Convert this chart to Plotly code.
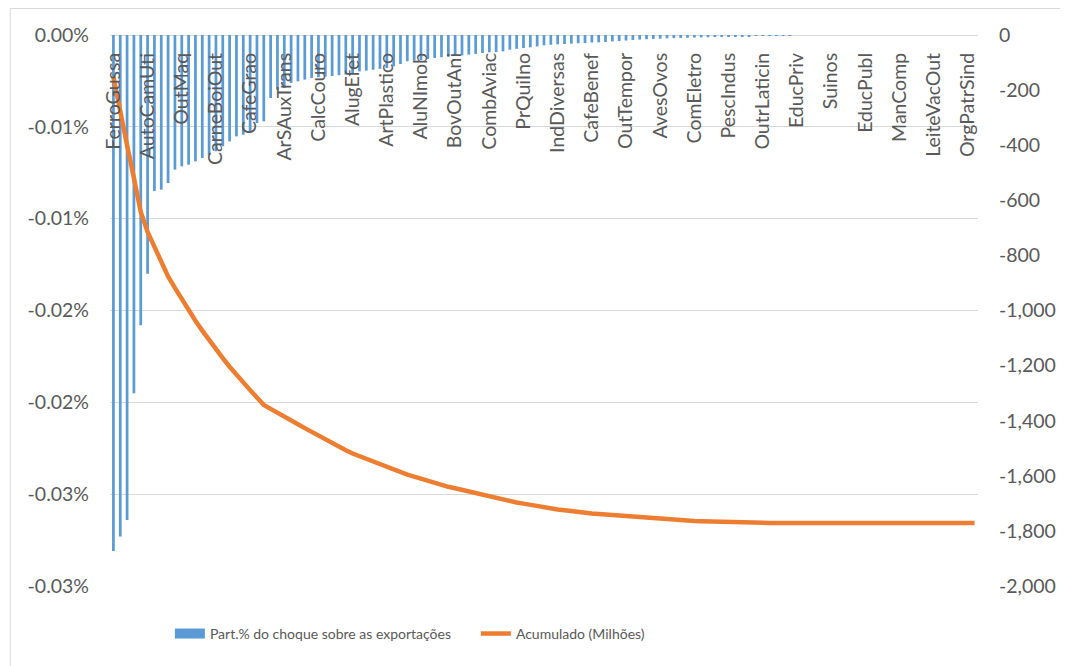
import plotly.graph_objects as go

# ---- data -------------------------------------------------------------
tick_labels = ["FerroGussa", "AutoCamUti", "OutMaq", "CarneBoiOut", "CafeGrao",
               "ArSAuxTrans", "CalcCouro", "AlugEfet", "ArtPlastico", "AluNImob",
               "BovOutAni", "CombAviac", "PrQuiIno", "IndDiversas", "CafeBenef",
               "OutTempor", "AvesOvos", "ComEletro", "PescIndus", "OutrLaticin",
               "EducPriv", "Suinos", "EducPubl", "ManComp", "LeiteVacOut",
               "OrgPatrSind"]

# share of the shock on exports (%), one value per sector (127 sectors)
part_pct = [
    -0.0281, -0.0273, -0.0264, -0.0195, -0.0158, -0.0130, -0.00849, -0.00842, -0.00806, -0.00733,
    -0.00715, -0.00706, -0.00688, -0.00670, -0.00652, -0.00633, -0.00606, -0.00579, -0.00552, -0.00543,
    -0.00524, -0.00479, -0.00470, -0.00343, -0.00298, -0.00289, -0.00261, -0.00252, -0.00243, -0.00234,
    -0.00230, -0.00227, -0.00223, -0.00219, -0.00216, -0.00207, -0.00198, -0.00194, -0.00189, -0.00184,
    -0.00180, -0.00170, -0.00158, -0.00143, -0.00140, -0.00136, -0.00131, -0.00125, -0.00121, -0.00118,
    -0.00114, -0.00111, -0.00107, -0.00103, -0.00098, -0.00094, -0.00093, -0.00089, -0.00080, -0.00075,
    -0.00071, -0.00067, -0.00062, -0.00056, -0.00053, -0.00051, -0.00049, -0.00047, -0.00045, -0.00044,
    -0.00041, -0.00040, -0.00038, -0.00035, -0.00033, -0.00030, -0.00027, -0.00025, -0.00023, -0.00021,
    -0.00020, -0.00018, -0.00017, -0.00016, -0.00015, -0.00014, -0.00013, -0.00012, -0.00011, -0.00010,
    -0.00009, -0.00008, -0.00007, -0.00007, -0.00005, -0.00004, -0.00003, -0.00002, -0.00001, -0.00001,
    0, 0, 0, 0, 0, 0, 0, 0, 0, 0,
    0, 0, 0, 0, 0, 0, 0, 0, 0, 0,
    0, 0, 0, 0, 0, 0, 0,
]

# cumulative (millions)
acumulado = [
    -152, -282, -400, -519, -642, -715, -770, -822, -876, -918,
    -960, -1000, -1037, -1073, -1108, -1141, -1173, -1204, -1234, -1262,
    -1289, -1316, -1343, -1357, -1370, -1385, -1399, -1413, -1427, -1441,
    -1454, -1468, -1481, -1494, -1507, -1519, -1529, -1539, -1549, -1559,
    -1569, -1579, -1588, -1596, -1603, -1611, -1618, -1625, -1632, -1640,
    -1645, -1651, -1657, -1664, -1670, -1676, -1682, -1688, -1692, -1697,
    -1701, -1706, -1710, -1714, -1718, -1722, -1725, -1729, -1732, -1735,
    -1737, -1739, -1741, -1743, -1745, -1747, -1749, -1751, -1753, -1754,
    -1756, -1758, -1760, -1761, -1763, -1764, -1765, -1766, -1767, -1768,
    -1769, -1769, -1770, -1770, -1771, -1771, -1771, -1771, -1771, -1771,
    -1771, -1771, -1771, -1771, -1771, -1771, -1771, -1771, -1771, -1771,
    -1771, -1771, -1771, -1771, -1771, -1771, -1771, -1771, -1771, -1771,
    -1771, -1771, -1771, -1771, -1771, -1771, -1771,
]

left_tickvals = [0, -0.005, -0.01, -0.015, -0.02, -0.025, -0.03]
left_ticktext = ["0.00%", "-0.01%", "-0.01%", "-0.02%", "-0.02%", "-0.03%", "-0.03%"]
right_tickvals = [0, -200, -400, -600, -800, -1000, -1200, -1400, -1600, -1800, -2000]
right_ticktext = ["0", "-200", "-400", "-600", "-800", "-1,000", "-1,200", "-1,400",
                  "-1,600", "-1,800", "-2,000"]

series_names = ["Part.% do choque sobre as exportações", "Acumulado (Milhões)"]

# ---- figure -----------------------------------------------------------
sector_idx = list(range(len(part_pct)))
label_idx = sector_idx[::5]

FONT = "Lato, 'Open Sans', sans-serif"
GREY = "#595959"
BLUE = "#5B9BD5"
ORANGE = "#ED7D31"

fig = go.Figure()
fig.add_trace(go.Bar(x=sector_idx, y=part_pct, name=series_names[0],
                     marker=dict(color=BLUE, line=dict(width=0)),
                     yaxis="y", showlegend=False, legendgroup="part"))
# legend entry for the bars, drawn as a wide swatch like the original
fig.add_trace(go.Scatter(x=[None], y=[None], name=series_names[0], mode="lines",
                         line=dict(color=BLUE, width=13), yaxis="y",
                         legendgroup="part", showlegend=True, hoverinfo="skip"))
fig.add_trace(go.Scatter(x=sector_idx, y=acumulado, name=series_names[1],
                         mode="lines", line=dict(color=ORANGE, width=4.5),
                         yaxis="y2"))

fig.update_layout(
    width=1060, height=658,
    margin=dict(l=102, r=88, t=27, b=80),
    paper_bgcolor="white", plot_bgcolor="white",
    font=dict(family=FONT, color=GREY, size=19.5),
    bargap=0.6,
    showlegend=True,
    legend=dict(orientation="h", x=0.069, y=-0.087, xanchor="left", yanchor="middle",
                font=dict(size=14, color=GREY, family=FONT), itemwidth=30,
                entrywidth=261, entrywidthmode="pixels", tracegroupgap=0,
                bgcolor="rgba(0,0,0,0)"),
    xaxis=dict(range=[-0.5, len(part_pct) - 0.5], tickmode="array",
               tickvals=label_idx, ticktext=tick_labels, tickangle=-90,
               side="bottom", anchor="free", position=1,
               showgrid=False, zeroline=False, showline=False, ticks="",
               ticklabelstandoff=13,
               tickfont=dict(size=19.5, color=GREY)),
    yaxis=dict(range=[-0.03, 0], tickmode="array", tickvals=left_tickvals,
               ticktext=left_ticktext, showgrid=True, gridcolor="#D9D9D9", gridwidth=1,
               zeroline=True, zerolinecolor="#D9D9D9", zerolinewidth=1,
               showline=False, ticks="", ticklabelstandoff=20,
               tickfont=dict(size=19.5, color=GREY)),
    yaxis2=dict(range=[-2000, 0], overlaying="y", side="right", tickmode="array",
                tickvals=right_tickvals, ticktext=right_ticktext,
                showgrid=False, zeroline=False, showline=False, ticks="",
                ticklabelstandoff=20, tickfont=dict(size=19.5, color=GREY)),
    shapes=[dict(type="rect", xref="paper", yref="paper",
                 x0=-0.1149, x1=1.3, y0=-0.3, y1=1.0481,
                 line=dict(color="#D9D9D9", width=1), fillcolor="rgba(0,0,0,0)",
                 layer="below")],
)

fig.write_html("out.html")
